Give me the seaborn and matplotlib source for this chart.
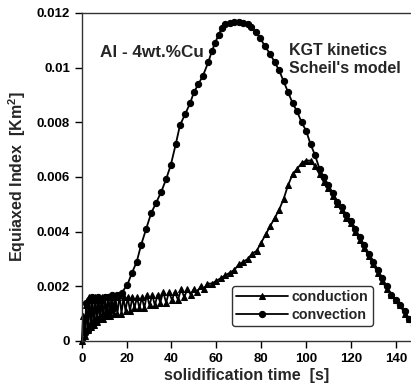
import matplotlib
matplotlib.use('Agg')
import matplotlib.pyplot as plt
import seaborn as sns
import pandas as pd

# conduction curve (time [s], equiaxed index [Km^2])
t_cond = [0, 0.6, 1.3, 2.0, 2.6, 3.3, 4.0, 4.6, 5.3, 6.0, 6.7, 7.4, 8.1, 8.8, 9.5, 10.3, 11.0, 11.8, 12.6, 13.4,
          14.2, 15.0, 15.9, 16.8, 17.7, 18.6, 19.5, 20.5, 21.5, 22.5, 23.5, 24.6, 25.7, 26.8, 27.9, 29.0, 30.2,
          31.4, 32.6, 33.8, 35.0, 36.3, 37.6, 38.9, 40.2, 41.5, 42.9, 44.3, 45.7, 47.1, 48.5, 50.0, 51.5, 53.0,
          54.5, 56, 58, 60, 62, 64, 66, 68, 70, 72, 74, 76, 78, 80, 82, 84, 86, 88, 90, 92, 94, 96, 98, 100,
          102, 104, 106, 108, 110, 112, 114, 116, 118, 120, 122, 124, 126, 128, 130, 132, 134, 136, 138, 140,
          142, 144, 146, 148]
v_cond = [0, 0.0009, 0.0002, 0.0013, 0.0004, 0.0016, 0.0005, 0.0015, 0.0006, 0.0016, 0.0007, 0.0015, 0.0008,
          0.0016, 0.0008, 0.0016, 0.0009, 0.0016, 0.0009, 0.0016, 0.0010, 0.0016, 0.0010, 0.0017, 0.0010,
          0.0016, 0.0011, 0.0016, 0.0011, 0.0016, 0.0012, 0.0016, 0.0012, 0.0016, 0.0012, 0.0017, 0.0013,
          0.0017, 0.0013, 0.0017, 0.0014, 0.0018, 0.0014, 0.0018, 0.0015, 0.0018, 0.0015, 0.0019, 0.0016,
          0.0019, 0.0017, 0.0019, 0.0018, 0.0020, 0.0019, 0.0021, 0.0021, 0.0022, 0.0023, 0.0024, 0.0025,
          0.0026, 0.0028, 0.0029, 0.0030, 0.0032, 0.0033, 0.0036, 0.0039, 0.0042, 0.0045, 0.0048, 0.0052,
          0.0057, 0.0061, 0.0063, 0.0065, 0.0066, 0.0066, 0.0064, 0.0061, 0.0058, 0.0056, 0.0053, 0.0050,
          0.0048, 0.0045, 0.0043, 0.0040, 0.0037, 0.0034, 0.0031, 0.0028, 0.0025, 0.0022, 0.0019, 0.0017,
          0.0015, 0.0013, 0.0010, 0.0008, 0.0006]

# convection curve
t_conv = [0, 0.6, 1.3, 2.0, 2.6, 3.3, 4.0, 4.6, 5.3, 6.0, 6.7, 7.4, 8.1, 8.8, 9.5, 10.3, 11.0, 11.8, 12.6, 13.4,
          14.2, 15.6, 17.8, 20.3, 22.3, 24.5, 26.4, 28.7, 30.9, 33.1, 35.4, 37.6, 39.7, 41.9, 43.8, 46.1, 48.3,
          50, 52, 54, 56.4, 58, 59.4, 61, 62.4, 64, 66, 68, 70, 72, 74, 75.5, 77.5, 79.5, 81.5, 84, 86, 88, 90,
          92, 94, 96, 98, 100, 102, 104, 106, 108, 110, 112, 114, 116, 118, 120, 122, 124, 126, 128, 130, 132,
          134, 136, 138, 140, 142, 144, 146, 148]
v_conv = [0, 0.0008, 0.0003, 0.0014, 0.0004, 0.0015, 0.0006, 0.0016, 0.0007, 0.0015, 0.0008, 0.0016, 0.0008,
          0.0015, 0.0009, 0.0016, 0.0010, 0.0016, 0.0011, 0.0017, 0.0012, 0.00168, 0.00177, 0.00205, 0.00248,
          0.0029, 0.0035, 0.0041, 0.00467, 0.00505, 0.00545, 0.00592, 0.00644, 0.0072, 0.0079, 0.0083, 0.0087,
          0.0091, 0.0094, 0.0097, 0.0102, 0.0106, 0.0109, 0.0112, 0.01144, 0.0116, 0.01165, 0.01168, 0.01168,
          0.01165, 0.0116, 0.0115, 0.0113, 0.0111, 0.0108, 0.0105, 0.0102, 0.0099, 0.0095, 0.0091, 0.0087,
          0.0084, 0.0080, 0.0077, 0.0072, 0.0068, 0.0063, 0.0060, 0.0057, 0.0054, 0.0051, 0.0049, 0.0046,
          0.0044, 0.0041, 0.0038, 0.0035, 0.0032, 0.0029, 0.0026, 0.0023, 0.0020, 0.0017, 0.0015, 0.0013,
          0.0011, 0.0008, 0.0006]

x_ticks = [0, 20, 40, 60, 80, 100, 120, 140]
y_ticks = [0, 0.002, 0.004, 0.006, 0.008, 0.01, 0.012]
y_tick_labels = ['0', '0.002', '0.004', '0.006', '0.008', '0.01', '0.012']

sns.set_style('ticks')
plt.rcParams['font.family'] = ['Liberation Sans', 'DejaVu Sans']
plt.rcParams['font.weight'] = 'bold'
plt.rcParams['mathtext.fontset'] = 'custom'
plt.rcParams['mathtext.bf'] = 'Liberation Sans:bold'
plt.rcParams['mathtext.rm'] = 'Liberation Sans:bold'

df_cond = pd.DataFrame({'t': t_cond, 'v': v_cond})
df_conv = pd.DataFrame({'t': t_conv, 'v': v_conv})

fig = plt.figure(figsize=(4.11, 3.85), dpi=100)
ax = fig.add_axes([0.199, 0.1143, 0.801, 0.852])

sns.lineplot(data=df_cond, x='t', y='v', ax=ax, color='black', lw=1.3, marker='^', markersize=4.5,
             markeredgecolor='black', label='conduction', estimator=None, clip_on=False)
sns.lineplot(data=df_conv, x='t', y='v', ax=ax, color='black', lw=1.3, marker='o', markersize=4.5,
             markeredgecolor='black', label='convection', estimator=None)

ax.set_xlim(0, 146.8)
ax.set_ylim(0, 0.012)
ax.set_xticks(x_ticks)
ax.set_yticks(y_ticks)
ax.set_yticklabels(y_tick_labels)
ax.tick_params(direction='out', length=5, width=1, labelsize=9.5, colors='black')
for lab in ax.get_xticklabels() + ax.get_yticklabels():
    lab.set_fontweight('bold')
ax.spines['right'].set_visible(False)
for s in ['left', 'bottom', 'top']:
    ax.spines[s].set_color('#333333')
    ax.spines[s].set_linewidth(1)

ax.set_xlabel('solidification time  [s]', fontsize=11.5, fontweight='bold', labelpad=2)
ax.set_ylabel(r'Equiaxed Index  [Km$^\mathbf{2}$]', fontsize=11.5, fontweight='bold', labelpad=6)

ax.text(8.3, 0.01054, 'Al - 4wt.%Cu', fontsize=12.3, fontweight='bold', va='center')
ax.text(92.5, 0.0103, "KGT kinetics\nScheil's model", fontsize=11.5, fontweight='bold', va='center',
        linespacing=1.25)

leg = ax.legend(loc='lower left', bbox_to_anchor=(0.456, 0.046), frameon=True, fancybox=True,
                borderaxespad=0, handlelength=3.6, fontsize=10.3, borderpad=0.3, labelspacing=0.25,
                handletextpad=0.3)
leg.get_frame().set_edgecolor('black')
leg.get_frame().set_linewidth(1)
for t in leg.get_texts():
    t.set_fontweight('bold')

fig.savefig('out.png', dpi=100)
